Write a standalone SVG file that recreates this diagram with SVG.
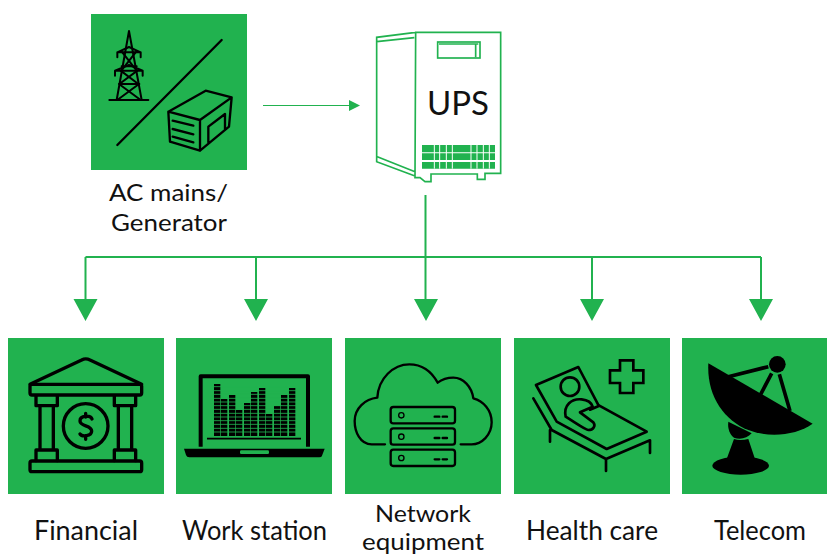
<svg xmlns="http://www.w3.org/2000/svg" width="827" height="557" viewBox="0 0 827 557">
<style>
.sq{fill:#21b24f}
.lb{font-family:"Lato","Liberation Sans",sans-serif;font-size:26px;fill:#111;text-anchor:middle}
.ls{font-size:23.500px}
.k{fill:none;stroke:#000;stroke-linejoin:round;stroke-linecap:round}
.f{fill:#000}
.g{fill:none;stroke:#21b24f;stroke-width:5}
.c{fill:none;stroke:#21b24f;stroke-width:2}
.a{fill:#21b24f}
</style>
<rect width="827" height="557" fill="#fff"/>
<g id="connectors">
<path class="c" style="stroke-width:1" d="M263 105.500H350"/>
<path class="a" d="M349 100L360 105.500L349 111Z"/>
<path class="c" d="M425.500 195V300M85.500 257H761M85.500 257V300M256 257V300M592 257V300M761 257V300"/>
<path class="a" d="M73.500 299H97.500L85.500 321ZM244 299H268L256 321ZM414 299H438L426 321ZM580 299H604L592 321ZM749 299H773L761 321Z"/>
</g>
<g id="ac-mains">
<rect class="sq" x="91" y="14" width="156" height="156"/>
<g transform="translate(80,5) scale(.33333)">
<g class="k" stroke-width="6">
<path d="M147 78L110 285M147 78L185 285M88 285H205"/>
<path d="M112 157V142H182V157M112 142L147 126L182 142M105 212V197H188V212M105 197L147 180L188 197"/>
<path d="M127 142L170 197M167 142L124 197M122 197L175 237M172 197L118 237M117 237H178M117 237L182 285M177 237L112 285M125 184H170"/>
</g>
<path class="k" stroke-width="7" d="M112 420L425 105"/>
<path class="k" stroke-width="7" d="M265 320L377 257L455 277L360 345ZM265 320L270 410L360 437V345M455 277L447 365L360 437M385 412V365L435 327V375M278 347L340 362M278 372L340 388M278 395L340 412"/>
</g>
<text class="lb ls" x="168.500" y="201" textLength="119" lengthAdjust="spacingAndGlyphs">AC mains/</text>
<text class="lb ls" x="169" y="231" textLength="116" lengthAdjust="spacingAndGlyphs">Generator</text>
</g>
<g id="ups">
<g transform="translate(365,20) scale(.33333)">
<path class="g" d="M152 37H407V460H360V478H337V462H198V485H180L165 473H150ZM152 37L35 52V425L150 468M35 65L148 53M37 410L150 455"/>
<rect class="g" x="218" y="66" width="127" height="48"/>
<path class="g" d="M222 72H340M332 70V112"/>
<path fill="#21b24f" d="M171 375H390V397H171ZM171 400H390V420H171ZM171 426H390V446H171Z"/>
<path stroke="#fff" stroke-width="3" d="M208 375V446M224 375V446M244 375V446M262 375V446M318 375V446M336 375V446M355 375V446M373 375V446"/>
</g>
<text x="458" y="115" textLength="62" lengthAdjust="spacingAndGlyphs" style="font-family:'Lato','Liberation Sans',sans-serif;font-size:32px;fill:#111;text-anchor:middle">UPS</text>
</g>
<g id="financial">
<rect class="sq" x="8" y="338" width="156" height="156"/>
<g transform="translate(0,335) scale(.33333)" class="k" stroke-width="10">
<path d="M90 148L245 75Q257 68 270 75L425 148"/>
<rect x="90" y="148" width="335" height="32" rx="6"/>
<rect x="90" y="378" width="335" height="32" rx="6"/>
<path d="M108 182V212H172V182M120 212V345M160 212V345M108 377V345H172V377M343 182V212H407V182M355 212V345M395 212V345M343 377V345H407V377"/>
<circle cx="257" cy="273" r="67"/>
<path d="M276 252C272 240 240 240 240 258C240 275 275 270 275 288C275 305 245 305 240 297M257 235V246M257 302V313"/>
</g>
<text class="lb" x="86" y="540" textLength="104" lengthAdjust="spacingAndGlyphs">Financial</text>
</g>
<g id="workstation">
<rect class="sq" x="176" y="338" width="156" height="156"/>
<g transform="translate(0,335) scale(.33333)">
<path class="k" stroke-width="12" style="stroke-linecap:butt" d="M602 335V124H924V335"/>
<path class="f" d="M642 147h19v156h-19zM663 192h19v111h-19zM687 180h19v123h-19zM708 225h19v78h-19zM732 204h19v99h-19zM753 171h19v132h-19zM777 159h19v144h-19zM798 237h19v66h-19zM822 213h19v90h-19zM843 180h19v123h-19zM867 159h19v144h-19z"/>
<path stroke="#21b24f" stroke-width="2.500" d="M640 155H888M640 167H888M640 178H888M640 190H888M640 201H888M640 212H888M640 223H888M640 235H888M640 246H888M640 257H888M640 268H888M640 280H888M640 291H888"/>
<path stroke="#000" stroke-width="5" d="M621 311H903"/>
<path class="f" d="M552 341H974L966 362Q965 367 958 367H568Q560 367 558 360Z"/>
<rect x="720" y="346" width="87" height="11" rx="4" fill="#21b24f"/>
</g>
<text class="lb" x="254.500" y="540" textLength="145" lengthAdjust="spacingAndGlyphs">Work station</text>
</g>
<g id="network">
<rect class="sq" x="345" y="338" width="156" height="156"/>
<g transform="translate(340,335) scale(.33333)" class="k" stroke-width="7">
<path d="M135 328H95C60 328 44 290 44 258C44 220 75 192 112 188C115 130 160 88 208 88C245 88 275 110 293 143C310 130 325 128 340 128C370 128 395 155 400 190C430 198 455 225 455 262C455 300 425 328 395 328H362"/>
<rect x="152" y="216" width="193" height="49" rx="8"/>
<rect x="152" y="280" width="193" height="49" rx="8"/>
<rect x="152" y="344" width="193" height="49" rx="8"/>
<circle cx="184" cy="241" r="8" stroke-width="4"/>
<circle cx="184" cy="305" r="8" stroke-width="4"/>
<circle cx="184" cy="369" r="8" stroke-width="4"/>
<path d="M284 245H298M308 245H321M284 309H298M308 309H321M284 373H298M308 373H321"/>
</g>
<text class="lb ls" x="423" y="522" textLength="96" lengthAdjust="spacingAndGlyphs">Network</text>
<text class="lb ls" x="423" y="550" textLength="122" lengthAdjust="spacingAndGlyphs">equipment</text>
</g>
<g id="health">
<rect class="sq" x="514" y="338" width="156" height="156"/>
<g transform="translate(510,335) scale(.33333)" class="k" stroke-width="8">
<path style="stroke-linejoin:miter" d="M330 76H370V106H400V144H370V174H330V144H300V106H330Z"/>
<path d="M138 256L78 150L205 96L266 212"/>
<path d="M140 260L290 342L410 290L268 212L240 224"/>
<circle cx="180" cy="155" r="28"/>
<path d="M167 245C160 210 185 190 215 193C235 195 245 205 248 215L210 232L250 262C258 272 250 285 235 285C228 285 222 280 167 245"/>
<path d="M70 190L125 285L288 372L420 316V354M120 285V320M288 372V408"/>
</g>
<text class="lb" x="592" y="540" textLength="132" lengthAdjust="spacingAndGlyphs">Health care</text>
</g>
<g id="telecom">
<rect class="sq" x="682" y="338" width="145" height="156"/>
<g transform="translate(510,335) scale(.33333)">
<path class="f" d="M595 85L908 266C860 300 780 310 715 285C640 255 590 180 595 85Z"/>
<circle class="f" cx="802" cy="88" r="25"/>
<path class="k" style="stroke-linecap:butt" stroke-width="11" d="M655 125L775 95M752 178L785 115M808 118L840 228"/>
<path class="f" d="M655 260L725 295C712 310 690 315 672 308C660 300 652 280 655 260Z"/>
<path class="f" d="M672 312Q690 318 715 312L735 372H650Z"/>
<ellipse class="f" cx="692" cy="392" rx="85" ry="27"/>
</g>
<text class="lb" x="760" y="540" textLength="92" lengthAdjust="spacingAndGlyphs">Telecom</text>
</g>
</svg>
